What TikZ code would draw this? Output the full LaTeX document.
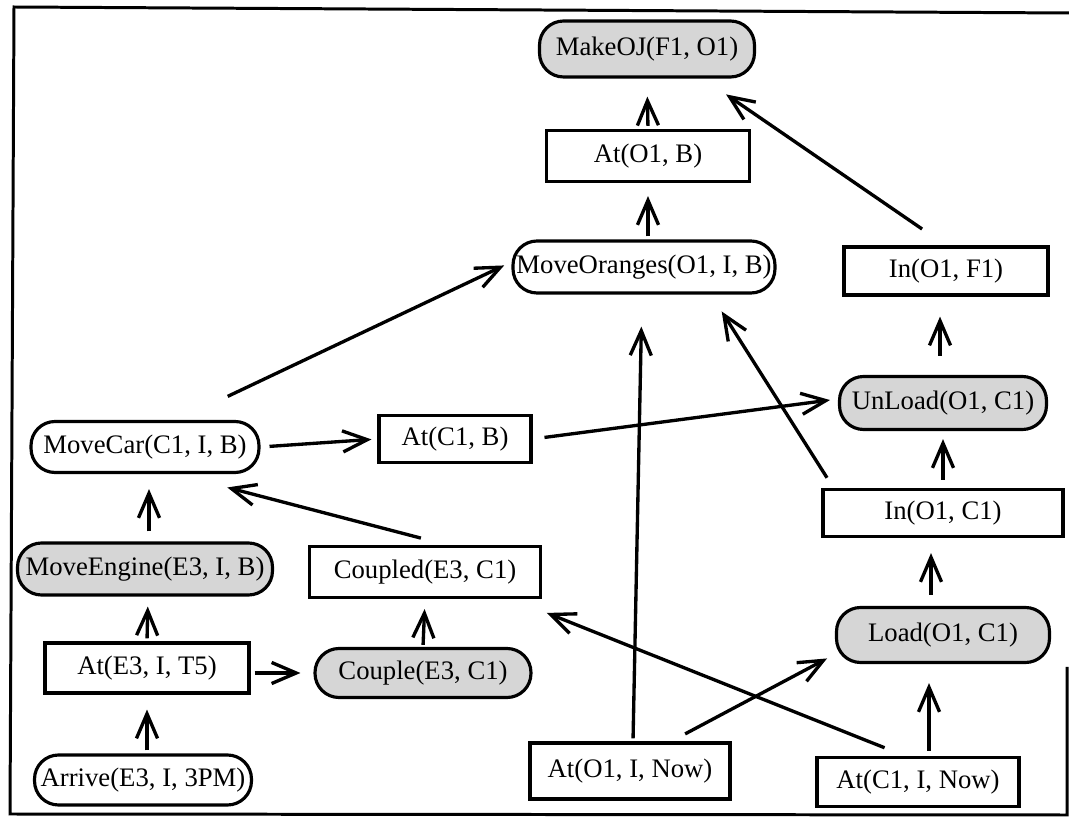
\documentclass[tikz,border=0pt]{standalone}
\usepackage{fontspec}
\setmainfont{Liberation Serif}
\usetikzlibrary{arrows.meta,calc}
\tikzset{
  fact/.style={draw, rectangle, line width=1.8pt, inner sep=0pt,
    font=\fontsize{15.2pt}{18pt}\selectfont},
  act/.style={fact, rounded corners=0.48cm},
  prim/.style={act, fill=gray!32},
  link/.style={-{Straight Barb[length=14pt,width=12pt]}, line width=1.9pt},
}
\begin{document}
\begin{tikzpicture}[x=0.02cm,y=-0.02cm]
        \useasboundingbox (0,0) rectangle (1069,820);
        %% Frame
        \draw[line width=1.7pt] (1069,13) -- (14,7) -- (10,814) -- (1067,815) -- (1067,667);
        %% Nodes
        \node[prim, minimum width=4.3cm, minimum height=1.12cm] (makeoj) at (647,49) {MakeOJ(F1, O1)};
        \node[fact, minimum width=4.06cm, minimum height=1.02cm] (atob) at (648,156) {At(O1, B)};
        \node[act, minimum width=5.24cm, minimum height=1.04cm] (moveor) at (644,267) {MoveOranges(O1, I, B)};
        \node[fact, minimum width=4.08cm, minimum height=0.96cm] (inof) at (946,271) {In(O1, F1)};
        \node[prim, minimum width=4.14cm, minimum height=1.06cm] (unload) at (943,403) {UnLoad(O1, C1)};
        \node[fact, minimum width=4.8cm, minimum height=0.94cm] (inoc) at (943,513) {In(O1, C1)};
        \node[prim, minimum width=4.26cm, minimum height=1.1cm] (load) at (943,635) {Load(O1, C1)};
        \node[fact, minimum width=4.04cm, minimum height=0.98cm] (atcnow) at (918,782) {At(C1, I, Now)};
        \node[fact, minimum width=4.0cm, minimum height=1.12cm] (atonow) at (630,771) {At(O1, I, Now)};
        \node[fact, minimum width=3.04cm, minimum height=0.94cm] (atcb) at (455,439) {At(C1, B)};
        \node[fact, minimum width=4.62cm, minimum height=1.02cm] (coupled) at (425,572) {Coupled(E3, C1)};
        \node[prim, minimum width=4.32cm, minimum height=0.98cm] (couple) at (423,673) {Couple(E3, C1)};
        \node[act, minimum width=4.56cm, minimum height=1.02cm] (movecar) at (145,447) {MoveCar(C1, I, B)};
        \node[prim, minimum width=5.1cm, minimum height=1.04cm] (moveeng) at (145,569) {MoveEngine(E3, I, B)};
        \node[fact, minimum width=4.08cm, minimum height=1.0cm] (ate) at (147,668) {At(E3, I, T5)};
        \node[act, minimum width=4.34cm, minimum height=1.0cm] (arrive) at (143,780) {Arrive(E3, I, 3PM)};
        %% Vertical links
        \draw[link, shorten <=0.06cm, shorten >=0.36cm] (atob.north) -- (makeoj.south);
        \draw[link, shorten <=0.06cm, shorten >=0.26cm] ($(moveor.north)+(4,0)$) -- (atob.south);
        \draw[link, shorten <=0.38cm, shorten >=0.4cm] ($(unload.north)+(-3,0)$) -- ($(inof.south)+(-6,0)$);
        \draw[link, shorten <=0.16cm, shorten >=0.16cm] (inoc.north) -- (unload.south);
        \draw[link, shorten <=0.22cm, shorten >=0.3cm] ($(load.north)+(-12,0)$) -- ($(inoc.south)+(-12,0)$);
        \draw[link, shorten <=0.1cm, shorten >=0.38cm] ($(atcnow.north)+(11,0)$) -- ($(load.south)+(-14,0)$);
        \draw[link, shorten <=0.2cm, shorten >=0.3cm] ($(moveeng.north)+(4,0)$) -- ($(movecar.south)+(4,0)$);
        \draw[link, shorten <=0.06cm, shorten >=0.2cm] (ate.north) -- ($(moveeng.south)+(3,0)$);
        \draw[link, shorten <=0.06cm, shorten >=0.3cm] ($(arrive.north)+(4,0)$) -- (ate.south);
        \draw[link, shorten <=0.04cm, shorten >=0.2cm] (couple.north) -- (coupled.south);
        \draw[link, shorten <=0.06cm, shorten >=0.64cm] ($(atonow.north)+(3,0)$) -- ($(moveor.south)+(-2,0)$);
        %% Other links
        \draw[link, shorten <=0.08cm, shorten >=0.26cm] ($(ate.east)+(0,5)$) -- (couple.west);
        \draw[link, shorten <=0.18cm, shorten >=0.12cm] (movecar.east) -- (atcb.west);
        \draw[link, shorten <=0.24cm, shorten >=0.16cm] (atcb.east) -- ($(unload.west)+(0,-4)$);
        \draw[link, shorten <=1.1cm, shorten >=0.16cm] ($(movecar.north)+(33,0)$) -- ($(moveor.west)+(0,-5)$);
        \draw[link, shorten <=0.58cm, shorten >=0.56cm] (inof.north) -- ($(makeoj.south)+(56,0)$);
        \draw[link, shorten <=0.24cm, shorten >=0.4cm] ($(inoc.north west)+(12,0)$) -- ($(moveor.south)+(67,0)$);
        \draw[link, shorten <=0.32cm, shorten >=0.36cm] ($(atonow.north)+(41,0)$) -- ($(load.west)+(8,15)$);
        \draw[link, shorten <=0.44cm, shorten >=0.1cm] ($(atcnow.north)+(-13,0)$) -- ($(coupled.south east)+(0,12)$);
        \draw[link, shorten <=0.54cm, shorten >=1.06cm] ($(coupled.north)+(22,0)$) -- ($(movecar.south)+(31,0)$);
\end{tikzpicture}
\end{document}
